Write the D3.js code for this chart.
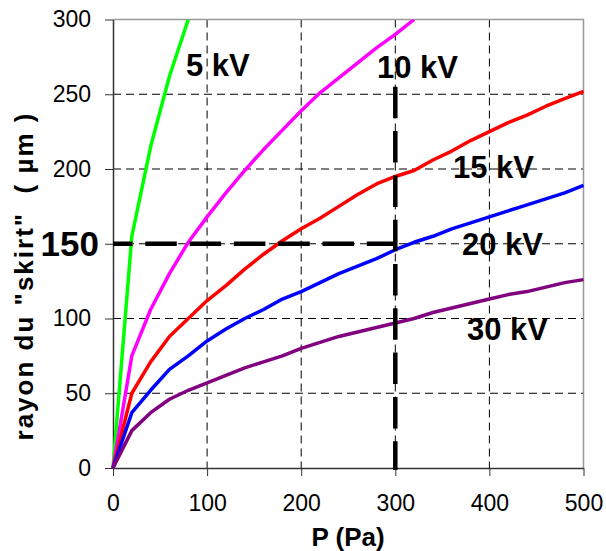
<!DOCTYPE html>
<html>
<head>
<meta charset="utf-8">
<script src="https://cdn.jsdelivr.net/npm/d3@7"></script>
<style>
  body { margin: 0; background: #fff; }
  text { font-family: "Liberation Sans", Arial, sans-serif; }
</style>
</head>
<body>
<div id="chart"></div>
<script>
// pressure (Pa) sampled every 20 Pa
const pressure = [0, 20, 40, 60, 80, 100, 120, 140, 160, 180, 200, 220, 240, 260, 280, 300,
  320, 340, 360, 380, 400, 420, 440, 460, 480, 500];

// skirt radius (µm) for each voltage
const radius5kV = [0, 155, 215, 262, 300];
const radius10kV = [0, 75, 106, 130, 151, 168, 184, 199, 213, 226, 239, 251, 261, 271, 281, 290, 300];
const radius15kV = [0, 50, 71, 88, 100, 112, 122, 133, 143, 152, 160, 167, 175, 183, 190, 195,
  199, 206, 212, 219, 225, 231, 236, 242, 247, 252];
const radius20kV = [0, 37, 52, 66, 75, 85, 93, 100, 106, 113, 118, 124, 130, 135, 140, 146,
  151, 155, 160, 164, 168, 172, 176, 180, 184, 189];
const radius30kV = [0, 25, 37, 46, 52, 57, 62, 67, 71, 75, 80, 84, 88, 91, 94, 97,
  100, 104, 107, 110, 113, 116, 118, 121, 124, 126];

const seriesNames = ['5 kV', '10 kV', '15 kV', '20 kV', '30 kV'];
const seriesValues = [radius5kV, radius10kV, radius15kV, radius20kV, radius30kV];
const seriesColors = ['#00ff00', '#ff00ff', '#ff0000', '#0000ff', '#800080'];

const xTicks = [0, 100, 200, 300, 400, 500];
const yTicks = [0, 50, 100, 200, 250, 300];

// reference lines: R = 150 µm reached at P = 300 Pa
const refPressure = 300;
const refRadius = 150;
const refTop = 255;

const width = 606, height = 551;
const margin = { top: 19.5, right: 22.5, bottom: 83, left: 113 };

const svg = d3.select('#chart').append('svg')
  .attr('width', width)
  .attr('height', height);

const x = d3.scaleLinear().domain([0, 500]).range([margin.left, width - margin.right]);
const y = d3.scaleLinear().domain([0, 300]).range([height - margin.bottom, margin.top]);

// grid
const grid = svg.append('g').attr('class', 'grid');
grid.selectAll('.vgrid')
  .data(xTicks.slice(1, -1))
  .enter().append('line')
  .attr('x1', d => x(d)).attr('x2', d => x(d))
  .attr('y1', y(300)).attr('y2', y(0))
  .attr('stroke', '#000')
  .attr('stroke-width', 1)
  .attr('stroke-dasharray', '8,5');
grid.selectAll('.hgrid')
  .data([50, 100, 150, 200, 250])
  .enter().append('line')
  .attr('x1', x(0)).attr('x2', x(500))
  .attr('y1', d => y(d)).attr('y2', d => y(d))
  .attr('stroke', '#000')
  .attr('stroke-width', 1)
  .attr('stroke-dasharray', '8,5');

// frame (top, right)
svg.append('path')
  .attr('d', `M${x(0)},${y(300)}H${x(500)}V${y(0)}`)
  .attr('fill', 'none')
  .attr('stroke', '#999')
  .attr('stroke-width', 1.5);

// axes
const xAxis = svg.append('g')
  .attr('transform', `translate(0,${y(0)})`)
  .call(d3.axisBottom(x).tickValues(xTicks).tickSize(8).tickPadding(19).tickSizeOuter(0));
const yAxis = svg.append('g')
  .attr('transform', `translate(${x(0)},0)`)
  .call(d3.axisLeft(y).tickValues([0, 50, 100, 150, 200, 250, 300]).tickSize(8).tickPadding(14).tickSizeOuter(0)
    .tickFormat(d => yTicks.includes(d) ? d : ''));

[xAxis, yAxis].forEach(a => {
  a.select('.domain').attr('stroke', '#333').attr('stroke-width', 1.5);
  a.selectAll('.tick line').attr('stroke', '#333').attr('stroke-width', 1);
  a.selectAll('.tick text')
    .attr('fill', '#000')
    .style('font-size', '23px')
    .style('font-family', '"Liberation Sans", Arial, sans-serif');
});

// clip for curves
svg.append('clipPath').attr('id', 'plotClip')
  .append('rect')
  .attr('x', x(0) - 3).attr('y', y(300))
  .attr('width', x(500) - x(0) + 6).attr('height', y(0) - y(300) + 3);

const line = d3.line()
  .x((d, i) => x(pressure[i]))
  .y(d => y(d));

svg.append('g').attr('clip-path', 'url(#plotClip)')
  .selectAll('path')
  .data(seriesValues)
  .enter().append('path')
  .attr('d', d => line(d))
  .attr('fill', 'none')
  .attr('stroke', (d, i) => seriesColors[i])
  .attr('stroke-width', 3.5)
  .attr('stroke-linejoin', 'round');

// reference dashed lines
svg.append('line')
  .attr('x1', x(0)).attr('x2', x(refPressure))
  .attr('y1', y(refRadius)).attr('y2', y(refRadius))
  .attr('stroke', '#000')
  .attr('stroke-width', 4.5)
  .attr('stroke-dasharray', '31.5,12.8')
  .attr('stroke-dashoffset', 12);
svg.append('line')
  .attr('x1', x(refPressure)).attr('x2', x(refPressure))
  .attr('y1', y(refTop)).attr('y2', y(0) + 2)
  .attr('stroke', '#000')
  .attr('stroke-width', 4.5)
  .attr('stroke-dasharray', '31.5,12.8');

svg.append('text')
  .attr('x', 99).attr('y', y(refRadius) + 12.5)
  .attr('text-anchor', 'end')
  .style('font-size', '35px')
  .style('font-weight', 'bold')
  .text(refRadius);

// series labels
const labelPos = [[186, 76], [377, 78], [453, 178], [462, 255], [467, 340]];
svg.selectAll('.serie-label')
  .data(seriesNames)
  .enter().append('text')
  .attr('class', 'serie-label')
  .attr('x', (d, i) => labelPos[i][0])
  .attr('y', (d, i) => labelPos[i][1])
  .style('font-size', '31px')
  .style('font-weight', 'bold')
  .text(d => d);

// axis titles
svg.append('text')
  .attr('x', 348).attr('y', 546)
  .attr('text-anchor', 'middle')
  .style('font-size', '26px')
  .style('font-weight', 'bold')
  .text('P (Pa)');

svg.append('text')
  .attr('transform', 'translate(33,276) rotate(-90)')
  .attr('text-anchor', 'middle')
  .style('font-size', '26px')
  .style('font-weight', 'bold')
  .style('letter-spacing', '2px')
  .style('white-space', 'pre')
  .text('rayon du "skirt"  ( µm )');
</script>
</body>
</html>
